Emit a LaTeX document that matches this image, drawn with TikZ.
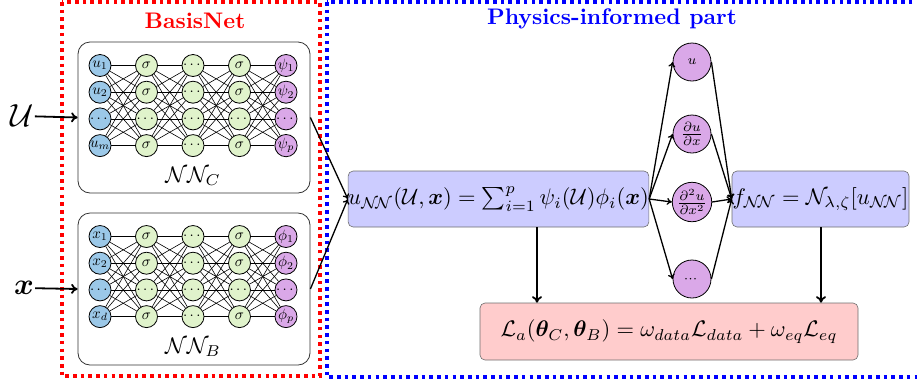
\documentclass[tikz,border=0pt]{standalone}
\usepackage{graphicx}
\usepackage{amsmath,amssymb,bm}
\usetikzlibrary{arrows.meta}
\definecolor{inblue}{RGB}{155,200,232}
\definecolor{hgreen}{RGB}{224,243,203}
\definecolor{opurple}{RGB}{218,168,232}
\definecolor{boxblue}{RGB}{204,204,255}
\definecolor{boxred}{RGB}{255,204,204}
\definecolor{bordergray}{RGB}{110,110,110}
\newcommand{\nl}[1]{\scalebox{1.5}{$#1$}}
\newcommand{\pl}[1]{\scalebox{1.9}{$#1$}}
\newcommand{\bt}[1]{\scalebox{2.25}{#1}}
\begin{document}
\begin{tikzpicture}[x=1pt,y=-1pt,
  neuron/.style={circle,draw=black,line width=0.8pt,minimum size=22pt,inner sep=0pt},
  inneuron/.style={neuron,fill=inblue},
  hneuron/.style={neuron,fill=hgreen},
  oneuron/.style={neuron,fill=opurple},
  pneuron/.style={circle,draw=black,line width=0.8pt,minimum size=38pt,inner sep=0pt,fill=opurple},
  netbox/.style={draw=black!80,line width=0.8pt,rounded corners=12pt,fill=white},
  fbox/.style={draw=bordergray,line width=0.6pt,rounded corners=5pt,inner sep=0pt},
  conn/.style={line width=0.6pt,black},
  arr/.style={line width=1.3pt,-{To[length=5pt,width=7pt]}},
  tarr/.style={line width=1.8pt,-{To[length=6.5pt,width=10pt]}},
  frame/.style={line width=3.6pt,dash pattern=on 3.6pt off 4.1pt},
  title/.style={inner sep=0pt}
]
\useasboundingbox (0,0) rectangle (917,384);
% frames
\draw[frame,blue] (327,2) rectangle (930,377);
\draw[frame,red] (62,2) rectangle (320,376);
\node[title,text=red] (tb) at (195,21) {\bt{\bfseries BasisNet}};
\node[title,text=blue] (tp) at (612,19) {\bt{\bfseries Physics-informed part}};
% net boxes
\node[netbox,minimum width=232pt,minimum height=151pt] (boxC) at (194,117.5) {};
\node[netbox,minimum width=232pt,minimum height=152pt] (boxB) at (194,289) {};
\node[inner sep=0pt] (lC) at (193,176) {\bt{$\mathcal{N}\mathcal{N}_C$}};
\node[inner sep=0pt] (lB) at (193,347) {\bt{$\mathcal{N}\mathcal{N}_B$}};
% neurons C
\foreach \lab [count=\j] in {u_1,u_2,\cdots,u_m}
  \node[inneuron] (c1\j) at (100,{65.5+26.7*(\j-1)}) {\nl{\lab}};
\foreach \lab [count=\j] in {\sigma,\sigma,\cdots,\sigma}
  \node[hneuron] (c2\j) at (146.5,{65.5+26.7*(\j-1)}) {\nl{\lab}};
\foreach \lab [count=\j] in {\cdots,\cdots,\cdots,\cdots}
  \node[hneuron] (c3\j) at (193,{65.5+26.7*(\j-1)}) {\nl{\lab}};
\foreach \lab [count=\j] in {\sigma,\sigma,\cdots,\sigma}
  \node[hneuron] (c4\j) at (239.5,{65.5+26.7*(\j-1)}) {\nl{\lab}};
\foreach \lab [count=\j] in {\psi_1,\psi_2,\cdots,\psi_p}
  \node[oneuron] (c5\j) at (286,{65.5+26.7*(\j-1)}) {\nl{\lab}};
% neurons B
\foreach \lab [count=\j] in {x_1,x_2,\cdots,x_d}
  \node[inneuron] (b1\j) at (100,{236.5+26.7*(\j-1)}) {\nl{\lab}};
\foreach \lab [count=\j] in {\sigma,\sigma,\cdots,\sigma}
  \node[hneuron] (b2\j) at (146.5,{236.5+26.7*(\j-1)}) {\nl{\lab}};
\foreach \lab [count=\j] in {\cdots,\cdots,\cdots,\cdots}
  \node[hneuron] (b3\j) at (193,{236.5+26.7*(\j-1)}) {\nl{\lab}};
\foreach \lab [count=\j] in {\sigma,\sigma,\cdots,\sigma}
  \node[hneuron] (b4\j) at (239.5,{236.5+26.7*(\j-1)}) {\nl{\lab}};
\foreach \lab [count=\j] in {\phi_1,\phi_2,\cdots,\phi_p}
  \node[oneuron] (b5\j) at (286,{236.5+26.7*(\j-1)}) {\nl{\lab}};
% dense connections
\foreach \i in {1,...,4}{
  \pgfmathtruncatemacro\ni{\i+1}
  \foreach \j in {1,...,4}{
    \foreach \k in {1,...,4}{
      \draw[conn] (c\i\j) -- (c\ni\k);
      \draw[conn] (b\i\j) -- (b\ni\k);
    }
  }
}
% inputs
\node[inner sep=1pt] (U) at (22,116) {\scalebox{3.2}{$\mathcal{U}$}};
\node[inner sep=1pt] (X) at (24,288) {\scalebox{3.0}{$\bm{x}$}};
\draw[tarr] (U) -- (boxC.west);
\draw[tarr] (X) -- (boxB.west);
% physics part
\node[fbox,fill=boxblue,minimum width=299pt,minimum height=56pt] (unn) at (498.5,199)
  {\bt{$u_{\mathcal{N}\!\mathcal{N}}(\mathcal{U},\bm{x})=\sum_{i=1}^{p}\psi_i(\mathcal{U})\phi_i(\bm{x})$}};
\node[fbox,fill=boxblue,minimum width=177pt,minimum height=56pt] (fnn) at (820.5,199)
  {\bt{$f_{\mathcal{N}\!\mathcal{N}}=\mathcal{N}_{\lambda,\zeta}[u_{\mathcal{N}\!\mathcal{N}}]$}};
\node[fbox,fill=boxred,minimum width=378pt,minimum height=57pt] (loss) at (669,331.5)
  {\bt{$\mathcal{L}_a(\bm{\theta}_C,\bm{\theta}_B)=\omega_{data}\mathcal{L}_{data}+\omega_{eq}\mathcal{L}_{eq}$}};
\node[pneuron] (p1) at (692,62) {\pl{\scriptstyle u}};
\node[pneuron] (p2) at (692,134) {\pl{\frac{\partial u}{\partial x}}};
\node[pneuron] (p3) at (692,202) {\pl{\frac{\partial^2 u}{\partial x^2}}};
\node[pneuron] (p4) at (692,279) {\pl{\scriptstyle\cdots}};
\draw[arr] (boxC.east) -- (unn.west);
\draw[arr] (boxB.east) -- (unn.west);
\foreach \p in {p1,p2,p3,p4}{
  \draw[arr] (unn.east) -- (\p.west);
  \draw[arr] (\p.east) -- (fnn.west);
}
\draw[tarr] (unn.south -| 537,0) -- (loss.north -| 537,0);
\draw[tarr] (fnn.south -| 821,0) -- (loss.north -| 821,0);
\end{tikzpicture}
\end{document}
